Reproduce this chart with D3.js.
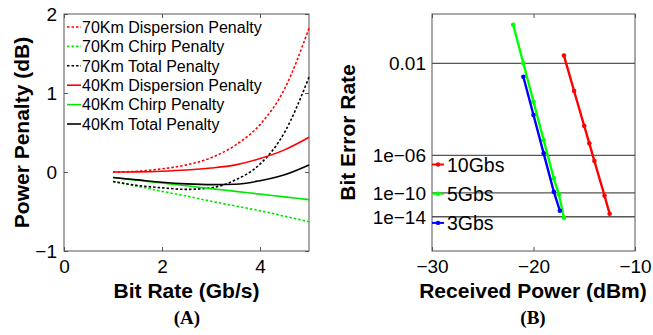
<!DOCTYPE html>
<html><head><meta charset="utf-8">
<script src="https://cdn.jsdelivr.net/npm/d3@7"></script>
<style>body{margin:0;background:#fff}svg{display:block}text{font-family:"Liberation Sans",Arial,sans-serif}</style>
</head><body><svg id="c" width="653" height="335"></svg>
<script>
// ---- Panel A data ----
const bitRate = [1, 1.5, 2, 2.5, 3, 3.5, 4, 4.5, 5];
const disp70  = [0, 0.01, 0.04, 0.09, 0.18, 0.34, 0.6, 1.05, 1.82];
const chirp70 = [-0.12, -0.18, -0.245, -0.305, -0.37, -0.43, -0.49, -0.56, -0.63];
const total70 = [-0.12, -0.17, -0.2, -0.22, -0.2, -0.1, 0.1, 0.5, 1.2];
const disp40  = [0, 0.002, 0.01, 0.025, 0.05, 0.09, 0.17, 0.28, 0.44];
const chirp40 = [-0.07, -0.105, -0.14, -0.175, -0.21, -0.245, -0.28, -0.315, -0.35];
const total40 = [-0.07, -0.1, -0.13, -0.15, -0.16, -0.155, -0.11, -0.035, 0.09];
const seriesNamesA = ["70Km Dispersion Penalty","70Km Chirp Penalty","70Km Total Penalty","40Km Dispersion Penalty","40Km Chirp Penalty","40Km Total Penalty"];
const xTicksA = [0, 2, 4];
const yTicksA = [-1, 0, 1, 2];

// ---- Panel B data ----
const rx10 = [-17, -16, -15, -14.5, -14, -13, -12.5];
const ber10 = [0.0142, 1.96e-3, 7.7e-5, 7.5e-6, 3.4e-7, 4.0e-11, 3.9e-14];
const rx5 = [-22, -21, -20, -19, -18, -17.5, -17];
const ber5 = [0.0423, 0.01, 8.6e-4, 1.23e-5, 6.8e-9, 6.4e-11, 6.3e-15];
const rx3 = [-21, -20, -19, -18, -17.4];
const ber3 = [4.9e-3, 2.56e-4, 1.45e-6, 1.5e-10, 1.4e-13];
const seriesNamesB = ["10Gbs", "5Gbs", "3Gbs"];
const xTicksB = [-30, -20, -10];
const yTicksB = [0.01, 1e-6, 1e-10, 1e-14];
const yTickLabelsB = ["0.01", "1e\u221206", "1e\u221210", "1e\u221214"];
const qDomainB = [1.587, 9.98];

const svg = d3.select("#c");
const frame = "#555";
const fmtMinus = d => (d < 0 ? "\u2212" + Math.abs(d) : "" + d);

// ===== Panel A =====
const A = {l: 64, r: 309, t: 14, b: 251};
const xA = d3.scaleLinear().domain([0, 5]).range([A.l, A.r]);
const yA = d3.scaleLinear().domain([-1, 2]).range([A.b, A.t]);
const gA = svg.append("g");

// axes with inner ticks
gA.append("g").attr("transform", `translate(0,${A.b})`)
  .call(d3.axisBottom(xA).tickValues(xTicksA).tickSizeInner(-4).tickSizeOuter(0).tickPadding(9).tickFormat(fmtMinus));
gA.append("g").attr("transform", `translate(0,${A.t})`)
  .call(d3.axisTop(xA).tickValues(xTicksA).tickSizeInner(-4).tickSizeOuter(0).tickFormat(""));
gA.append("g").attr("transform", `translate(${A.l},0)`)
  .call(d3.axisLeft(yA).tickValues(yTicksA).tickSizeInner(-4).tickSizeOuter(0).tickPadding(7).tickFormat(fmtMinus));
gA.append("g").attr("transform", `translate(${A.r},0)`)
  .call(d3.axisRight(yA).tickValues(yTicksA).tickSizeInner(-4).tickSizeOuter(0).tickFormat(""));
gA.selectAll(".domain").remove();
gA.selectAll(".tick line").attr("stroke", frame);
gA.selectAll(".tick text").attr("font-size", 19).attr("fill", "#000").style("font-family", "Liberation Sans, Arial, sans-serif");
gA.append("rect").attr("x", A.l).attr("y", A.t).attr("width", A.r - A.l).attr("height", A.b - A.t)
  .attr("fill", "none").attr("stroke", frame).attr("stroke-width", 1);

const seriesA = [
  {v: disp70, c: "#ff0000", dash: "2.5,2"},
  {v: chirp70, c: "#00e600", dash: "2.5,2"},
  {v: total70, c: "#000", dash: "2.5,2"},
  {v: disp40, c: "#ff0000", dash: null},
  {v: chirp40, c: "#00e600", dash: null},
  {v: total40, c: "#000", dash: null}
];
const lineA = d3.line().x(d => xA(d[0])).y(d => yA(d[1])).curve(d3.curveMonotoneX);
seriesA.forEach(s => {
  gA.append("path").datum(bitRate.map((b, i) => [b, s.v[i]]))
    .attr("d", lineA).attr("fill", "none").attr("stroke", s.c).attr("stroke-width", 1.6)
    .attr("stroke-dasharray", s.dash);
});
// legend A
seriesA.forEach((s, i) => {
  const y = 27 + i * 19.4;
  gA.append("line").attr("x1", 67).attr("x2", 81).attr("y1", y).attr("y2", y)
    .attr("stroke", s.c).attr("stroke-width", 1.6).attr("stroke-dasharray", s.dash);
  gA.append("text").attr("x", 82).attr("y", y).attr("dy", "0.36em").attr("font-size", 16).text(seriesNamesA[i]);
});
gA.append("text").attr("x", (A.l + A.r) / 2).attr("y", 298).attr("text-anchor", "middle")
  .attr("font-size", 21).attr("font-weight", "bold").text("Bit Rate (Gb/s)");
gA.append("text").attr("transform", `translate(22,${(A.t + A.b) / 2}) rotate(-90)`).attr("text-anchor", "middle")
  .attr("dy", "0.35em").attr("font-size", 21).attr("font-weight", "bold").text("Power Penalty (dB)");
gA.append("text").attr("x", 187).attr("y", 324).attr("text-anchor", "middle").attr("font-size", 19)
  .attr("font-weight", "bold").style("font-family", "Liberation Serif, Times New Roman, serif").text("(A)");

// ===== Panel B =====
function erfc(x) {
  const z = Math.abs(x), t = 1 / (1 + 0.5 * z);
  const r = t * Math.exp(-z * z - 1.26551223 + t * (1.00002368 + t * (0.37409196 + t * (0.09678418 + t * (-0.18628806 + t * (0.27886807 + t * (-1.13520398 + t * (1.48851587 + t * (-0.82215223 + t * 0.17087277)))))))));
  return x >= 0 ? r : 2 - r;
}
function qOfBer(ber) {
  let lo = 0, hi = 20;
  for (let k = 0; k < 80; k++) {
    const m = (lo + hi) / 2;
    if (0.5 * erfc(m / Math.SQRT2) > ber) lo = m; else hi = m;
  }
  return (lo + hi) / 2;
}
const B = {l: 432, r: 635, t: 14, b: 251};
const xB = d3.scaleLinear().domain([-30, -10]).range([B.l, B.r]);
const yQ = d3.scaleLog().domain(qDomainB).range([B.t, B.b]);
const yB = ber => yQ(qOfBer(ber));
const gB = svg.append("g");

// grid lines
yTicksB.forEach(t => {
  gB.append("line").attr("x1", B.l).attr("x2", B.r).attr("y1", yB(t)).attr("y2", yB(t))
    .attr("stroke", frame).attr("stroke-width", 1.3);
});
gB.append("g").attr("transform", `translate(0,${B.b})`)
  .call(d3.axisBottom(xB).tickValues(xTicksB).tickSizeInner(-4).tickSizeOuter(0).tickPadding(9).tickFormat(fmtMinus));
gB.append("g").attr("transform", `translate(0,${B.t})`)
  .call(d3.axisTop(xB).tickValues(xTicksB).tickSizeInner(-4).tickSizeOuter(0).tickFormat(""));
const yAxisScale = d3.scaleOrdinal().domain(yTicksB).range(yTicksB.map(yB));
const yAxB = gB.append("g").attr("transform", `translate(${B.l},0)`);
yAxB.selectAll("g").data(yTicksB).join("g").attr("transform", d => `translate(0,${yB(d)})`)
  .append("text").attr("x", -6).attr("dy", "0.36em").attr("text-anchor", "end").attr("font-size", 19)
  .text((d, i) => yTickLabelsB[i]);
gB.selectAll(".domain").remove();
gB.selectAll(".tick line").attr("stroke", frame);
gB.selectAll(".tick text").attr("font-size", 19).attr("fill", "#000").style("font-family", "Liberation Sans, Arial, sans-serif");
gB.append("rect").attr("x", B.l).attr("y", B.t).attr("width", B.r - B.l).attr("height", B.b - B.t)
  .attr("fill", "none").attr("stroke", frame).attr("stroke-width", 1);

const seriesB = [
  {x: rx10, y: ber10, c: "#ff0000"},
  {x: rx5, y: ber5, c: "#00ff00"},
  {x: rx3, y: ber3, c: "#0000ff"}
];
const lineB = d3.line().x(d => xB(d[0])).y(d => yB(d[1]));
seriesB.forEach(s => {
  const pts = s.x.map((x, i) => [x, s.y[i]]);
  gB.append("path").datum(pts).attr("d", lineB).attr("fill", "none").attr("stroke", s.c).attr("stroke-width", 2.4);
  gB.selectAll(null).data(pts).join("circle").attr("cx", d => xB(d[0])).attr("cy", d => yB(d[1]))
    .attr("r", 2.3).attr("fill", s.c);
});
// legend B
seriesB.forEach((s, i) => {
  const y = 164.5 + i * 29.2;
  gB.append("line").attr("x1", 432).attr("x2", 444).attr("y1", y).attr("y2", y).attr("stroke", s.c).attr("stroke-width", 2);
  gB.append("circle").attr("cx", 438).attr("cy", y).attr("r", 2.2).attr("fill", s.c);
  gB.append("text").attr("x", 447).attr("y", y).attr("dy", "0.36em").attr("font-size", 19.5).text(seriesNamesB[i]);
});
gB.append("text").attr("x", 533).attr("y", 298).attr("text-anchor", "middle")
  .attr("font-size", 21).attr("font-weight", "bold").text("Received Power (dBm)");
gB.append("text").attr("transform", `translate(348,${(B.t + B.b) / 2}) rotate(-90)`).attr("text-anchor", "middle")
  .attr("dy", "0.35em").attr("font-size", 21).attr("font-weight", "bold").text("Bit Error Rate");
gB.append("text").attr("x", 533).attr("y", 324).attr("text-anchor", "middle").attr("font-size", 19)
  .attr("font-weight", "bold").style("font-family", "Liberation Serif, Times New Roman, serif").text("(B)");
</script></body></html>
